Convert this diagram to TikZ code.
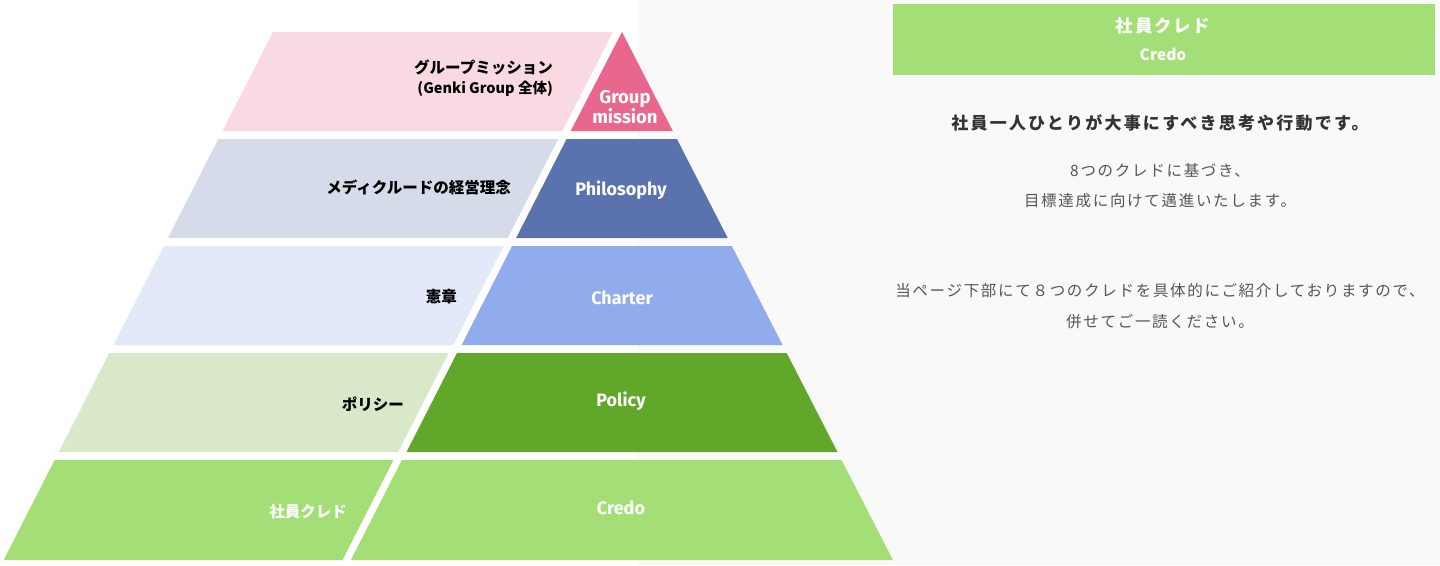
\documentclass[tikz,border=0pt]{standalone}
\usepackage{fontspec}
\newfontfamily\jp{Noto Sans CJK JP}
\newfontfamily\en{Fira Sans}
\definecolor{bgr}{HTML}{F9F9F9}
\definecolor{pinkL}{HTML}{F9D9E2}
\definecolor{pinkD}{HTML}{E9678C}
\definecolor{blueL}{HTML}{D6DBEA}
\definecolor{blueD}{HTML}{5A72AD}
\definecolor{skyL}{HTML}{E3E9F8}
\definecolor{skyD}{HTML}{91ACEC}
\definecolor{grnL}{HTML}{D8E8C9}
\definecolor{grnD}{HTML}{61A729}
\definecolor{grnM}{HTML}{A4DE77}
\definecolor{txt}{HTML}{333333}
\definecolor{txtl}{HTML}{555555}
\tikzset{
  jplabel/.style={anchor=east, inner sep=0pt, font=\jp\bfseries\fontsize{15.5}{18}\selectfont, text=black},
  enlabel/.style={inner sep=0pt, align=center, font=\en\bfseries\fontsize{18}{18}\selectfont, text=white},
  bodytext/.style={inner sep=0pt, font=\jp\fontsize{15.5}{18}\selectfont\addfontfeature{LetterSpace=11}, text=txtl},
}
\begin{document}
\begin{tikzpicture}[x=1pt,y=-1pt]
\path[use as bounding box, fill=white] (0,0) rectangle (1440,565);
\fill[bgr] (638,0) rectangle (1440,565);
% row 1
\fill[pinkL] (273,32) -- (612.8,32) -- (562.3,131) -- (222.5,131) -- cycle;
\fill[pinkD] (622,32) -- (672.8,131) -- (570.7,131) -- cycle;
% row 2
\fill[blueL] (218.4,139) -- (558.2,139) -- (507.7,238) -- (167.9,238) -- cycle;
\fill[blueD] (566.6,139) -- (676.9,139) -- (727.7,238) -- (516.1,238) -- cycle;
% row 3
\fill[skyL] (163.9,246) -- (503.7,246) -- (453.2,345) -- (113.4,345) -- cycle;
\fill[skyD] (512.1,246) -- (731.8,246) -- (782.6,345) -- (461.6,345) -- cycle;
% row 4
\fill[grnL] (109.3,353) -- (448.6,353) -- (398.1,452) -- (58.8,452) -- cycle;
\fill[grnD] (457,353) -- (786.7,353) -- (837.5,452) -- (406.5,452) -- cycle;
% row 5
\fill[grnM] (54.7,460) -- (393.5,460) -- (342.5,560) -- (3.7,560) -- cycle;
\fill[grnM] (401.9,460) -- (841.6,460) -- (892.9,560) -- (350.9,560) -- cycle;
% labels left
\node[jplabel] (l1a) at (553,67) {グループミッション};
\node[jplabel, font=\jp\bfseries\fontsize{14.5}{16}\selectfont] (l1b) at (553,89) {(Genki Group 全体)};
\node[jplabel] (l2) at (511,187) {メディクルードの経営理念};
\node[jplabel] (l3) at (457,297) {憲章};
\node[jplabel] (l4) at (404,404) {ポリシー};
\node[jplabel, text=white] (l5) at (347,512) {社員クレド};
% labels right
\node[enlabel, font=\en\bfseries\fontsize{18.5}{18.5}\selectfont] (r1) at (625,107) {Group\\mission};
\node[enlabel] (r2) at (621,190) {Philosophy};
\node[enlabel] (r3) at (622,298) {Charter};
\node[enlabel] (r4) at (621,401) {Policy};
\node[enlabel] (r5) at (621,508) {Credo};
% right panel
\fill[grnM] (893,4) rectangle (1435,75);
\node[inner sep=0pt, text=white, font=\jp\bfseries\fontsize{17.5}{20}\selectfont\addfontfeature{LetterSpace=10}] (h1) at (1163,26) {社員クレド};
\node[inner sep=0pt, text=white, font=\jp\bfseries\fontsize{15.5}{16}\selectfont] (h2) at (1163,54) {Credo};
\node[inner sep=0pt, text=txt, font=\jp\bfseries\fontsize{17}{20}\selectfont\addfontfeature{LetterSpace=13}] (b0) at (1160,123) {社員一人ひとりが大事にすべき思考や行動です。};
\node[bodytext] (b1) at (1160,170) {8つのクレドに基づき、};
\node[bodytext] (b2) at (1160,201) {目標達成に向けて邁進いたします。};
\node[bodytext] (b3) at (1160,291) {当ページ下部にて８つのクレドを具体的にご紹介しておりますので、};
\node[bodytext] (b4) at (1160,322) {併せてご一読ください。};
\end{tikzpicture}
\end{document}
